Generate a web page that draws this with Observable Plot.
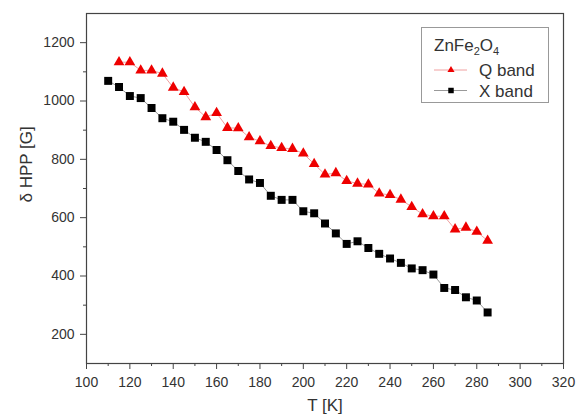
<!DOCTYPE html>
<html>
<head>
<meta charset="utf-8">
<script src="https://cdn.jsdelivr.net/npm/d3@7"></script>
<script src="https://cdn.jsdelivr.net/npm/@observablehq/plot@0.6"></script>
<style>
  body { margin: 0; background: #fff; }
  #wrap { position: relative; width: 576px; height: 417px; font-family: "Liberation Sans", Arial, sans-serif; }
  #legend { position: absolute; left: 421px; top: 27px; }
</style>
</head>
<body>
<div id="wrap"></div>
<script>
// X band data
const xT = [110,115,120,125,130,135,140,145,150,155,160,165,170,175,180,185,190,195,200,205,210,215,220,225,230,235,240,245,250,255,260,265,270,275,280,285];
const xV = [1069,1048,1017,1010,976,941,929,901,874,860,832,797,760,731,719,675,661,661,622,615,580,546,510,519,496,476,460,445,426,420,405,359,352,327,316,275];
// Q band data
const qT = [115,120,125,130,135,140,145,150,155,160,165,170,175,180,185,190,195,200,205,210,215,220,225,230,235,240,245,250,255,260,265,270,275,280,285];
const qV = [1133,1133,1105,1105,1094,1046,1031,979,945,959,908,907,876,862,846,839,836,820,784,748,753,726,717,714,683,678,662,637,612,605,605,560,566,552,521];
// tick labels
const xMajor = [100,120,140,160,180,200,220,240,260,280,300,320];
const xMinor = [110,130,150,170,190,210,230,250,270,290,310];
const yMajor = [200,400,600,800,1000,1200];
const yMinor = [300,500,700,900,1100];

const xData = xT.map((t, i) => ({T: t, v: xV[i]}));
const qData = qT.map((t, i) => ({T: t, v: qV[i]}));

const axisColor = "#444";
const plot = Plot.plot({
  width: 576,
  height: 417,
  marginLeft: 86,
  marginRight: 13,
  marginTop: 13,
  marginBottom: 54,
  style: {fontFamily: "'Liberation Sans', Arial, sans-serif", fontSize: "14px", color: "#333", background: "#fff"},
  x: {domain: [100, 320], label: null},
  y: {domain: [100, 1300], label: null},
  marks: [
    Plot.frame({stroke: axisColor, strokeWidth: 1.2}),
    Plot.axisX(xMajor, {tickSize: 6, tickPadding: 8, stroke: axisColor, fill: "#333", label: null, tickFormat: d => String(d)}),
    Plot.axisX(xMinor, {tickSize: 3, stroke: axisColor, label: null, tickFormat: () => ""}),
    Plot.axisY(yMajor, {tickSize: 6, tickPadding: 6, stroke: axisColor, fill: "#333", label: null, tickFormat: d => String(d)}),
    Plot.axisY(yMinor, {tickSize: 3, stroke: axisColor, label: null, tickFormat: () => ""}),
    Plot.text(["T [K]"], {frameAnchor: "bottom", dy: 47, fontSize: 17, fill: "#333"}),
    Plot.text(["δ HPP [G]"], {frameAnchor: "left", dx: -60, dy: 14, rotate: -90, fontSize: 17, fill: "#333"}),
    Plot.line(qData, {x: "T", y: "v", stroke: "#f0a0a0", strokeWidth: 1}),
    Plot.line(xData, {x: "T", y: "v", stroke: "#999", strokeWidth: 1}),
    Plot.dot(qData, {x: "T", y: "v", symbol: "triangle", fill: "#ee0000", stroke: "none", r: 4}),
    Plot.dot(xData, {x: "T", y: "v", symbol: "square", fill: "#000", stroke: "none", r: 4.5})
  ]
});
const wrap = document.getElementById("wrap");
wrap.appendChild(plot);

// legend
const lg = d3.create("svg").attr("id", "legend").attr("width", 129).attr("height", 77)
  .style("font-family", "'Liberation Sans', Arial, sans-serif").style("font-size", "17px");
lg.append("rect").attr("x", 0.5).attr("y", 0.5).attr("width", 127).attr("height", 75)
  .attr("fill", "#fff").attr("stroke", "#999");
const title = lg.append("text").attr("x", 13).attr("y", 24).attr("fill", "#333");
title.append("tspan").text("ZnFe");
title.append("tspan").attr("font-size", 11).attr("dy", 4).text("2");
title.append("tspan").attr("dy", -4).text("O");
title.append("tspan").attr("font-size", 11).attr("dy", 4).text("4");
const rows = [
  {name: "Q band", line: "#f0a0a0", fill: "#ee0000", sym: d3.symbolTriangle, size: 22},
  {name: "X band", line: "#999", fill: "#000", sym: d3.symbolSquare, size: 30}
];
rows.forEach((r, i) => {
  const cy = 43 + i * 20.5;
  lg.append("line").attr("x1", 13).attr("x2", 46).attr("y1", cy).attr("y2", cy).attr("stroke", r.line);
  lg.append("path").attr("d", d3.symbol(r.sym, r.size)()).attr("transform", `translate(30,${cy})`).attr("fill", r.fill);
  lg.append("text").attr("x", 58).attr("y", cy + 6).attr("fill", "#333").text(r.name);
});
wrap.appendChild(lg.node());
</script>
</body>
</html>
